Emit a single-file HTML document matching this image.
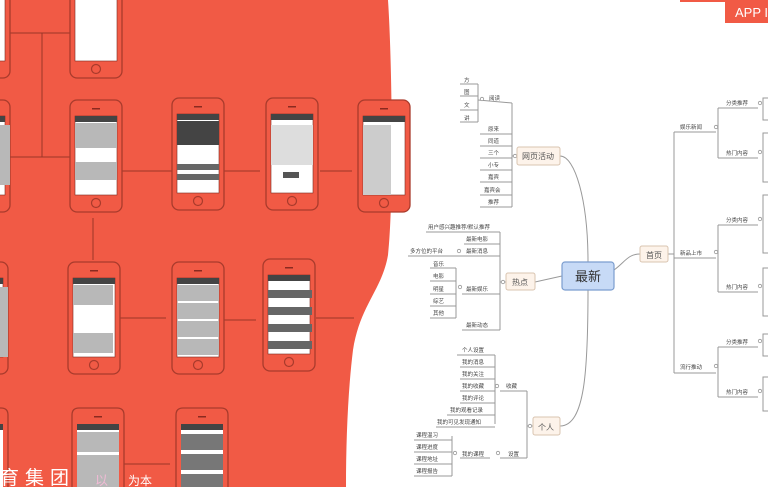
<!DOCTYPE html>
<html><head><meta charset="utf-8"><style>
html,body{margin:0;padding:0;background:#fff;width:768px;height:487px;overflow:hidden;}
svg{display:block}
text{font-family:"Liberation Sans","Noto Sans CJK SC",sans-serif;}
</style></head><body>
<svg width="768" height="487" viewBox="0 0 768 487" xmlns="http://www.w3.org/2000/svg">
<defs>
<g id="ph">
<rect x="0" y="0" width="52" height="112" rx="7" fill="#f15a45" stroke="#a93b2c" stroke-width="1.3"/>
<rect x="5" y="16" width="42" height="79" fill="#fff" stroke="#7a2a20" stroke-width="0.6"/>
<rect x="5" y="16" width="42" height="6" fill="#444"/>
<circle cx="26" cy="103" r="4.5" fill="none" stroke="#a93b2c" stroke-width="1.2"/>
<rect x="22" y="8" width="8" height="1.5" fill="#8a2a20"/>
</g>
<g id="phb">
<path d="M0 79 V7 Q0 0 7 0 H45 Q52 0 52 7 V79" fill="#f15a45" stroke="#a93b2c" stroke-width="1.3"/>
<rect x="5" y="16" width="42" height="63" fill="#fff"/>
<rect x="5" y="16" width="42" height="6" fill="#444"/>
<rect x="22" y="8" width="8" height="1.5" fill="#8a2a20"/>
</g>
</defs>
<path d="M0 0 L388 0 C392 60 394 200 388 255 C382 290 360 305 353 350 C348 390 346 440 346 487 L0 487 Z" fill="#f15a45"/>
<g stroke="#9a3528" stroke-width="1" fill="none">
<line x1="0" y1="33" x2="92" y2="33"/>
<line x1="42" y1="33" x2="42" y2="157"/>
<line x1="0" y1="157" x2="72" y2="157"/>
<line x1="100" y1="171" x2="260" y2="171"/>
<line x1="320" y1="171" x2="352" y2="171"/>
<line x1="93" y1="218" x2="93" y2="260"/>
<line x1="120" y1="318" x2="166" y2="318"/>
<line x1="224" y1="320" x2="256" y2="320"/>
<line x1="316" y1="318" x2="354" y2="318"/>
<line x1="124" y1="464" x2="170" y2="464"/>
</g>
<use href="#ph" x="70" y="-34"/>
<use href="#ph" x="-42" y="-34"/>
<use href="#ph" x="70" y="100"/>
<use href="#ph" x="172" y="98"/>
<use href="#ph" x="266" y="98"/>
<use href="#ph" x="358" y="100"/>
<use href="#ph" x="-42" y="100"/>
<use href="#ph" x="68" y="262"/>
<use href="#ph" x="172" y="262"/>
<use href="#ph" x="263" y="259"/>
<use href="#ph" x="-44" y="262"/>
<use href="#phb" x="72" y="408"/>
<use href="#phb" x="176" y="408"/>
<use href="#phb" x="-44" y="408"/>
<g fill="#b8b8b8">
<rect x="75" y="123" width="42" height="25"/><rect x="75" y="162" width="42" height="18"/>
<rect x="177" y="121" width="42" height="24" fill="#444"/>
<rect x="177" y="164" width="42" height="6" fill="#666"/><rect x="177" y="174" width="42" height="6" fill="#666"/>
<rect x="271" y="125" width="42" height="40" fill="#ddd"/><rect x="283" y="172" width="16" height="6" fill="#555"/>
<rect x="363" y="125" width="28" height="70" fill="#ccc"/>
<rect x="73" y="285" width="40" height="20"/><rect x="73" y="333" width="40" height="20"/>
<rect x="177" y="285" width="42" height="16"/><rect x="177" y="303" width="42" height="16"/><rect x="177" y="321" width="42" height="16"/><rect x="177" y="339" width="42" height="16"/>
<rect x="268" y="290" width="44" height="8" fill="#666"/><rect x="268" y="307" width="44" height="8" fill="#666"/><rect x="268" y="324" width="44" height="8" fill="#666"/><rect x="268" y="341" width="44" height="8" fill="#666"/>
<rect x="77" y="432" width="42" height="20"/><rect x="77" y="455" width="42" height="32"/>
<rect x="181" y="434" width="42" height="16" fill="#777"/><rect x="181" y="454" width="42" height="16" fill="#777"/><rect x="181" y="474" width="42" height="13" fill="#777"/>
<rect x="0" y="125" width="10" height="60"/><rect x="0" y="287" width="8" height="70"/>
</g>
<text x="0" y="484" font-size="19" fill="#fff" letter-spacing="6">育集团</text>
<text x="95" y="485" font-size="13" fill="#fbd" opacity="0.8">以</text>
<text x="128" y="485" font-size="12" fill="#fff">为本</text>
<rect x="680" y="0" width="88" height="2" fill="#f15a45"/>
<rect x="725" y="0" width="43" height="23" fill="#f15a45"/>
<text x="735" y="17" font-size="13" fill="#fff">APP I</text>
<g stroke="#999" stroke-width="1" fill="none">
<path d="M588 262 C588 200 575 156 560 156"/>
<path d="M535 282 L562 276"/>
<path d="M588 290 C588 370 585 426 560 426"/>
<path d="M614 270 C625 262 628 254 640 254"/>
<line x1="668" y1="254" x2="674" y2="254"/>
<line x1="674" y1="132" x2="674" y2="373"/>
<line x1="674" y1="132" x2="716" y2="132"/><line x1="674" y1="258" x2="716" y2="258"/><line x1="674" y1="373" x2="716" y2="373"/>
<line x1="718" y1="108" x2="718" y2="158"/><line x1="718" y1="108" x2="758" y2="108"/><line x1="718" y1="158" x2="758" y2="158"/>
<line x1="718" y1="225" x2="718" y2="292"/><line x1="718" y1="225" x2="758" y2="225"/><line x1="718" y1="292" x2="758" y2="292"/>
<line x1="718" y1="347" x2="718" y2="397"/><line x1="718" y1="347" x2="758" y2="347"/><line x1="718" y1="397" x2="758" y2="397"/>
<path d="M768 98 L763 98 L763 120 L768 120"/><path d="M768 133 L763 133 L763 182 L768 182"/>
<path d="M768 195 L763 195 L763 253 L768 253"/><path d="M768 268 L763 268 L763 316 L768 316"/>
<path d="M768 334 L763 334 L763 356 L768 356"/><path d="M768 377 L763 377 L763 411 L768 411"/>
<line x1="512" y1="103" x2="512" y2="207"/><line x1="512" y1="156" x2="517" y2="156"/>
<line x1="478" y1="84" x2="478" y2="122"/><line x1="478" y1="100" x2="512" y2="103"/>
<path d="M460 84 H478 M460 96 H478 M460 110 H478 M460 122 H478"/>
<path d="M480 134 H512 M480 146 H512 M480 158 H512 M480 170 H512 M480 182 H512 M480 195 H512 M480 207 H512"/>
<line x1="500" y1="232" x2="500" y2="330"/><line x1="500" y1="282" x2="506" y2="282"/>
<path d="M426 232 H500 M464 244 H500 M408 256 H500 M462 294 H500 M462 330 H500"/>
<line x1="456" y1="268" x2="456" y2="318"/>
<path d="M430 268 H456 M430 281 H456 M430 294 H456 M430 306 H456 M430 318 H456"/>
<line x1="527" y1="391" x2="527" y2="458"/><line x1="527" y1="426" x2="533" y2="426"/>
<path d="M500 391 H527 M500 458 H527"/>
<line x1="495" y1="355" x2="495" y2="424"/>
<path d="M457 355 H495 M460 367 H495 M460 379 H495 M460 391 H495 M460 403 H495 M447 415 H495 M436 427 H495"/>
<line x1="452" y1="436" x2="452" y2="476"/>
<path d="M414 440 H452 M414 452 H452 M414 464 H452 M414 476 H452 M460 458 H490"/>
</g>
<g stroke="#999" fill="#fff" stroke-width="0.8">
<circle cx="482" cy="99" r="1.7"/><circle cx="515" cy="156" r="1.7"/><circle cx="503" cy="282" r="1.7"/><circle cx="460" cy="287" r="1.7"/><circle cx="459" cy="251" r="1.7"/>
<circle cx="530" cy="426" r="1.7"/><circle cx="497" cy="386" r="1.7"/><circle cx="498" cy="453" r="1.7"/><circle cx="455" cy="453" r="1.7"/>
<circle cx="716" cy="127" r="1.7"/><circle cx="716" cy="252" r="1.7"/><circle cx="716" cy="366" r="1.7"/>
<circle cx="760" cy="103" r="1.7"/><circle cx="760" cy="152" r="1.7"/><circle cx="760" cy="219" r="1.7"/><circle cx="760" cy="286" r="1.7"/><circle cx="760" cy="341" r="1.7"/><circle cx="760" cy="391" r="1.7"/>
</g>
<rect x="562" y="262" width="52" height="28" rx="3" fill="#c7daf6" stroke="#7b9dcf" stroke-width="1.2"/>
<text x="588" y="281" font-size="13" text-anchor="middle" fill="#333">最新</text>
<rect x="640" y="246" width="28" height="16" rx="2" fill="#fdf3ea" stroke="#d9c4b0"/>
<text x="654" y="258" font-size="8" text-anchor="middle" fill="#555">首页</text>
<rect x="517" y="147" width="43" height="18" rx="2" fill="#fdf3ea" stroke="#d9c4b0"/>
<text x="538" y="159" font-size="8" text-anchor="middle" fill="#555">网页活动</text>
<rect x="506" y="273" width="29" height="17" rx="2" fill="#fdf3ea" stroke="#d9c4b0"/>
<text x="520" y="285" font-size="8" text-anchor="middle" fill="#555">热点</text>
<rect x="533" y="417" width="27" height="18" rx="2" fill="#fdf3ea" stroke="#d9c4b0"/>
<text x="546" y="430" font-size="8" text-anchor="middle" fill="#555">个人</text>
<g font-size="5.5" fill="#444">
<text x="464" y="82">方</text><text x="464" y="94">图</text><text x="464" y="107">文</text><text x="464" y="120">讲</text>
<text x="489" y="100">阅读</text>
<text x="488" y="131">原来</text><text x="488" y="143">同道</text><text x="488" y="155">三个</text><text x="488" y="167">小专</text><text x="488" y="179">嘉宾</text><text x="484" y="192">嘉宾会</text><text x="488" y="204">推荐</text>
<text x="428" y="229">用户感兴趣推荐/默认推荐</text>
<text x="466" y="241">最新电影</text>
<text x="410" y="253">多方位的平台</text><text x="466" y="253">最新消息</text>
<text x="433" y="266">音乐</text><text x="433" y="278">电影</text><text x="433" y="291">明星</text><text x="433" y="303">综艺</text><text x="433" y="315">其他</text>
<text x="466" y="291">最新娱乐</text><text x="466" y="327">最新动态</text>
<text x="462" y="352">个人设置</text><text x="462" y="364">我的消息</text><text x="462" y="376">我的关注</text><text x="462" y="388">我的收藏</text><text x="462" y="400">我的评论</text><text x="450" y="412">我的观看记录</text><text x="437" y="424">我的可见发现通知</text>
<text x="506" y="388">收藏</text><text x="508" y="456">设置</text><text x="462" y="456">我的课程</text>
<text x="416" y="437">课程温习</text><text x="416" y="449">课程进度</text><text x="416" y="461">课程地址</text><text x="416" y="473">课程报告</text>
<text x="680" y="129">娱乐新闻</text><text x="680" y="255">新品上市</text><text x="680" y="369">流行推动</text>
<text x="726" y="105">分类推荐</text><text x="726" y="155">热门内容</text><text x="726" y="222">分类内容</text><text x="726" y="289">热门内容</text><text x="726" y="344">分类推荐</text><text x="726" y="394">热门内容</text>
</g>
</svg>
</body></html>
